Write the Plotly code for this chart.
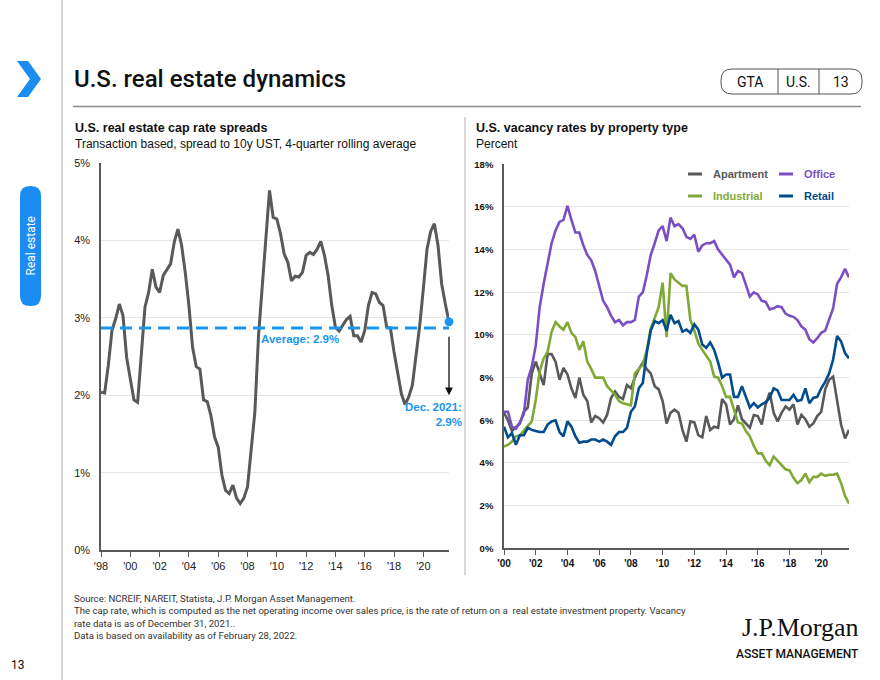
import plotly.graph_objects as go

# ---------------- data ----------------
CAP_START_YEAR = 1998
CAP_SPREAD = [
    2.04, 2.03, 2.39, 2.84, 2.99, 3.18, 3.03, 2.49,
    2.21, 1.94, 1.91, 2.52, 3.14, 3.33, 3.63, 3.40,
    3.33, 3.55, 3.63, 3.70, 3.98, 4.15, 3.94, 3.59,
    3.16, 2.62, 2.37, 2.34, 1.94, 1.92, 1.74, 1.46,
    1.33, 0.97, 0.77, 0.73, 0.84, 0.67, 0.60, 0.67,
    0.82, 1.31, 1.78, 2.77, 3.38, 4.06, 4.65, 4.30,
    4.28, 4.09, 3.83, 3.72, 3.48, 3.54, 3.53, 3.59,
    3.81, 3.85, 3.82, 3.89, 3.99, 3.81, 3.55, 3.16,
    2.88, 2.83, 2.90, 2.98, 3.02, 2.77, 2.77, 2.69,
    2.84, 3.16, 3.33, 3.31, 3.20, 3.16, 2.88, 2.87,
    2.56, 2.26, 2.02, 1.88, 1.98, 2.13, 2.52, 2.90,
    3.38, 3.89, 4.12, 4.22, 3.94, 3.44, 3.18, 2.95,
]
CAP_AVERAGE = 2.87
LEFT_TICK_YEARS = [1998, 2000, 2002, 2004, 2006, 2008, 2010, 2012, 2014, 2016, 2018, 2020]
LEFT_TICK_TEXT = ["'98", "'00", "'02", "'04", "'06", "'08", "'10", "'12", "'14", "'16", "'18", "'20"]
LEFT_Y_TICKS = [0, 1, 2, 3, 4, 5]
LEFT_Y_TEXT = ["0%", "1%", "2%", "3%", "4%", "5%"]

VAC_START_YEAR = 2000
APARTMENT = [
    6.35, 6.0, 5.5, 5.7, 5.85, 6.4, 6.6, 8.2,
    8.75, 8.2, 7.65, 9.1, 9.1, 8.75, 7.9, 8.45,
    8.15, 7.5, 7.05, 8.0, 7.2, 6.9, 5.9, 6.2,
    6.1, 5.9, 6.25, 7.05, 7.35, 7.1, 7.0, 7.65,
    7.5, 8.0, 8.4, 8.7, 8.4, 8.2, 7.6, 7.45,
    6.9, 5.85, 6.35, 6.5, 6.35, 5.55, 5.0, 5.95,
    5.9, 5.3, 5.2, 6.2, 5.55, 5.7, 5.65, 7.0,
    6.75, 5.8, 6.05, 6.7, 6.05, 5.85, 5.65, 6.25,
    6.2, 5.8, 6.75, 7.3, 6.35, 5.95, 6.35, 6.65,
    6.5, 6.75, 5.8, 6.25, 6.05, 5.7, 5.85, 6.2,
    6.4, 7.45, 7.9, 8.05, 6.95, 5.8, 5.15, 5.55,
]
OFFICE = [
    6.4, 6.4, 5.7, 5.6, 5.9, 6.3, 7.9, 8.5,
    9.5, 11.3, 12.4, 13.4, 14.3, 14.9, 15.3, 15.4,
    16.05, 15.4, 14.8, 14.8, 14.2, 13.75, 13.5, 13.0,
    12.3, 11.6, 11.3, 10.9, 10.6, 10.7, 10.45, 10.6,
    10.6, 10.7, 11.8, 12.0, 12.8, 13.75, 14.3, 14.9,
    15.1, 14.4, 15.5, 15.1, 15.2, 15.0, 14.6, 14.5,
    14.7, 13.9, 14.2, 14.3, 14.3, 14.4, 14.0, 13.75,
    13.5, 13.3, 12.7, 13.0, 12.9, 12.3, 11.8, 12.0,
    11.9, 11.6, 11.55, 11.2, 11.25, 11.35, 11.3, 11.0,
    10.9, 10.85, 10.7, 10.4, 10.25, 9.8, 9.65, 9.85,
    10.1, 10.2, 10.7, 11.25, 12.4, 12.7, 13.1, 12.7,
]
INDUSTRIAL = [
    4.77, 4.85, 5.0, 5.25, 5.3, 5.5, 5.75, 5.95,
    6.95, 8.3, 8.9, 9.2, 10.15, 10.6, 10.4, 10.25,
    10.6, 10.1, 9.9, 9.3, 9.7, 8.75, 8.4, 8.0,
    8.0, 8.0, 7.6, 7.4, 7.2, 6.9, 6.8, 6.75,
    6.7, 8.2, 8.4, 8.6, 9.3, 10.3, 10.8, 11.3,
    12.45, 9.9, 12.9, 12.6, 12.45, 12.3, 12.3, 10.7,
    10.2, 9.6, 9.3, 9.05, 8.75, 8.05, 8.0, 7.6,
    7.1, 7.1, 6.5, 5.9, 5.85, 5.5, 5.25, 4.8,
    4.45, 4.45, 4.1, 3.9, 4.3, 4.1, 3.9, 3.7,
    3.65, 3.3, 3.05, 3.2, 3.5, 3.1, 3.35, 3.35,
    3.5, 3.4, 3.45, 3.45, 3.5, 3.05, 2.45, 2.1,
]
RETAIL = [
    5.7, 5.2, 5.4, 4.85, 5.3, 5.3, 5.65, 5.55,
    5.5, 5.45, 5.45, 5.8, 5.95, 6.0, 5.45, 5.25,
    5.95, 5.7, 5.25, 4.95, 5.0, 5.0, 5.1, 5.1,
    5.0, 5.1, 5.0, 4.85, 5.25, 5.45, 5.45, 5.65,
    6.4, 6.65, 7.5, 7.75, 9.15, 10.2, 10.65, 10.55,
    10.7, 10.2, 10.95, 10.55, 10.65, 10.15, 10.25, 10.1,
    10.5, 10.25, 9.55, 9.4, 9.65, 9.3, 8.7, 8.0,
    8.15, 8.15, 7.1, 7.1, 7.6, 7.1, 6.6, 6.8,
    6.6, 6.75, 6.85, 7.05, 7.5, 7.4, 6.95, 6.95,
    6.95, 7.2, 6.9, 6.95, 7.5, 6.8, 7.05, 7.1,
    7.5, 7.8, 8.2, 8.85, 9.95, 9.7, 9.15, 8.9,
]
VAC_SERIES = ["Apartment", "Office", "Industrial", "Retail"]
RIGHT_TICK_YEARS = [2000, 2002, 2004, 2006, 2008, 2010, 2012, 2014, 2016, 2018, 2020]
RIGHT_TICK_TEXT = ["'00", "'02", "'04", "'06", "'08", "'10", "'12", "'14", "'16", "'18", "'20"]
RIGHT_Y_TICKS = [0, 2, 4, 6, 8, 10, 12, 14, 16, 18]
RIGHT_Y_TEXT = ["0%", "2%", "4%", "6%", "8%", "10%", "12%", "14%", "16%", "18%"]

# ---------------- styles ----------------
W, H = 880, 680
GREY_LINE = "#58595b"
BLUE = "#1a96f0"
COLORS = {"Apartment": "#58595b", "Office": "#7a4fc6", "Industrial": "#7fa934", "Retail": "#004c8c"}
FONT = "Liberation Sans, Arial, sans-serif"
SANS2 = "Roboto, Liberation Sans, sans-serif"


def px(x):
    return x / W


def py(y):
    return 1 - y / H


cap_x = [CAP_START_YEAR + i / 4 for i in range(len(CAP_SPREAD))]
vac_x = [VAC_START_YEAR + i / 4 for i in range(len(OFFICE))]
vac_data = {"Apartment": APARTMENT, "Office": OFFICE, "Industrial": INDUSTRIAL, "Retail": RETAIL}

fig = go.Figure()

# left chart
fig.add_trace(go.Scatter(x=cap_x, y=CAP_SPREAD, mode="lines", xaxis="x", yaxis="y",
                         line=dict(color=GREY_LINE, width=3), showlegend=False, hoverinfo="skip"))
fig.add_trace(go.Scatter(x=[cap_x[0], cap_x[-1]], y=[CAP_AVERAGE, CAP_AVERAGE], mode="lines",
                         xaxis="x", yaxis="y", line=dict(color=BLUE, width=3, dash="12px,7px"),
                         showlegend=False, hoverinfo="skip"))
fig.add_trace(go.Scatter(x=[cap_x[-1]], y=[CAP_SPREAD[-1]], mode="markers", xaxis="x", yaxis="y",
                         marker=dict(color=BLUE, size=9), showlegend=False, hoverinfo="skip",
                         cliponaxis=False))

# right chart
for name in VAC_SERIES:
    fig.add_trace(go.Scatter(x=vac_x, y=vac_data[name], mode="lines", name=name, xaxis="x2", yaxis="y2",
                             line=dict(color=COLORS[name], width=2.6), showlegend=False, hoverinfo="skip"))

axis_common = dict(showline=True, linecolor="#595959", linewidth=1.5, ticks="outside", ticklen=5,
                   tickcolor="#595959", showgrid=False, zeroline=False, fixedrange=True, automargin=False,
                   tickmode="array")
yaxis_common = dict(showline=True, linecolor="#595959", linewidth=1.5, ticks="", showgrid=True,
                    gridcolor="#e6e6e6", gridwidth=1, zeroline=False, fixedrange=True, automargin=False,
                    tickmode="array", ticklabelstandoff=7)

fig.update_layout(
    width=W, height=H, margin=dict(l=0, r=0, t=0, b=0, pad=0, autoexpand=False),
    paper_bgcolor="white", plot_bgcolor="white", showlegend=False,
    font=dict(family=FONT, color="#222"),
    xaxis=dict(domain=[px(101), px(449)], range=[CAP_START_YEAR, cap_x[-1]], anchor="y",
               tickvals=LEFT_TICK_YEARS, ticktext=LEFT_TICK_TEXT,
               tickfont=dict(size=11, color="#222"), **axis_common),
    yaxis=dict(domain=[py(550), py(163.3)], range=[0, 5], anchor="x", tickvals=LEFT_Y_TICKS,
               ticktext=LEFT_Y_TEXT, tickfont=dict(size=11, color="#222"), **yaxis_common),
    xaxis2=dict(domain=[px(504), px(849)], range=[VAC_START_YEAR, vac_x[-1]], anchor="y2",
                tickvals=RIGHT_TICK_YEARS, ticktext=RIGHT_TICK_TEXT,
                tickfont=dict(size=10, color="#111", weight="bold"), **axis_common),
    yaxis2=dict(domain=[py(548.3), py(164.3)], range=[0, 18], anchor="x2", tickvals=RIGHT_Y_TICKS,
                ticktext=RIGHT_Y_TEXT, tickfont=dict(size=9.5, color="#111", weight="bold"), **yaxis_common),
)

shapes = []
annotations = []


def note(x, y, text, size, color="#111", family=FONT, xanchor="center", yanchor="middle", **kw):
    annotations.append(dict(xref="paper", yref="paper", x=px(x), y=py(y), text=text, showarrow=False,
                            xanchor=xanchor, yanchor=yanchor,
                            font=dict(family=family, size=size, color=color, **kw.pop("fontkw", {})), **kw))


# page frame lines
shapes.append(dict(type="line", xref="paper", yref="paper", x0=px(62), x1=px(62), y0=0, y1=1,
                   line=dict(color="#a6a6a6", width=1)))
shapes.append(dict(type="line", xref="paper", yref="paper", x0=px(73), x1=px(861), y0=py(106.5), y1=py(106.5),
                   line=dict(color="#8c8c8c", width=1.5)))
shapes.append(dict(type="line", xref="paper", yref="paper", x0=px(465), x1=px(465), y0=py(117), y1=py(575),
                   line=dict(color="#b3b3b3", width=1)))

# chevron
chev = [(17, 61), (28, 61), (41, 79), (28, 97), (17, 97), (30, 79)]
path = "M " + " L ".join(f"{px(a)},{py(b)}" for a, b in chev) + " Z"
shapes.append(dict(type="path", xref="paper", yref="paper", path=path, fillcolor="#1a8cf2", line=dict(width=0)))


def rounded_rect(x0, y0, x1, y1, r):
    pts = [
        f"M {px(x0 + r)},{py(y0)}",
        f"L {px(x1 - r)},{py(y0)}",
        f"Q {px(x1)},{py(y0)} {px(x1)},{py(y0 + r)}",
        f"L {px(x1)},{py(y1 - r)}",
        f"Q {px(x1)},{py(y1)} {px(x1 - r)},{py(y1)}",
        f"L {px(x0 + r)},{py(y1)}",
        f"Q {px(x0)},{py(y1)} {px(x0)},{py(y1 - r)}",
        f"L {px(x0)},{py(y0 + r)}",
        f"Q {px(x0)},{py(y0)} {px(x0 + r)},{py(y0)}",
        "Z",
    ]
    return " ".join(pts)


# sidebar pill
shapes.append(dict(type="path", xref="paper", yref="paper", path=rounded_rect(20, 186, 41, 306, 10),
                   fillcolor="#1a8cf2", line=dict(width=0)))
note(30.5, 246, "Real estate", 12, color="white", family=SANS2, textangle=-90)

# GTA pill
shapes.append(dict(type="path", xref="paper", yref="paper", path=rounded_rect(721, 69, 862, 94, 11),
                   fillcolor="rgba(0,0,0,0)", line=dict(color="#555", width=1)))
for xd in (778, 819):
    shapes.append(dict(type="line", xref="paper", yref="paper", x0=px(xd), x1=px(xd), y0=py(69), y1=py(94),
                       line=dict(color="#555", width=1)))
for txt, xc in (("GTA", 749.5), ("U.S.", 798.5), ("13", 840.5)):
    note(xc, 81.5, txt, 14, family=SANS2)

# page title
note(72, 79, "U.S. real estate dynamics", 24, family=SANS2, xanchor="left", fontkw=dict(weight=500))

# chart titles
note(73, 128, "<b>U.S. real estate cap rate spreads</b>", 12.5, xanchor="left")
note(73, 144, "Transaction based, spread to 10y UST, 4-quarter rolling average", 12, xanchor="left")
note(474, 128, "<b>U.S. vacancy rates by property type</b>", 12.5, xanchor="left")
note(474, 144, "Percent", 12, xanchor="left")

# left chart annotations
note(300, 338.5, "<b>Average: 2.9%</b>", 11.5, color=BLUE)
annotations.append(dict(xref="x", yref="y", x=cap_x[-1], y=2.0, ax=0, ay=-63, axref="pixel", ayref="pixel",
                        text="", showarrow=True, arrowhead=2, arrowsize=1.2, arrowwidth=1.3, arrowcolor="#111",
                        standoff=0, startstandoff=3))
note(464, 414.5, "<b>Dec. 2021:</b><br><b>2.9%</b>", 11.5, color=BLUE, xanchor="right", align="right")

# right chart legend
legend_pos = {"Apartment": (688, 174), "Office": (779, 174), "Industrial": (688, 196), "Retail": (779, 196)}
for name in VAC_SERIES:
    lx, ly = legend_pos[name]
    shapes.append(dict(type="line", xref="paper", yref="paper", x0=px(lx), x1=px(lx + 14), y0=py(ly), y1=py(ly),
                       line=dict(color=COLORS[name], width=3)))
    note(lx + 23, ly, f"<b>{name}</b>", 11, color=COLORS[name], xanchor="left")

# footer
footer = ("Source: NCREIF, NAREIT, Statista, J.P. Morgan Asset Management.<br>"
          "The cap rate, which is computed as the net operating income over sales price, is the rate of return on a "
          " real estate investment property. Vacancy<br>rate data is as of December 31, 2021..<br>"
          "Data is based on availability as of February 28, 2022.")
note(72, 591, footer, 9.6, color="#333", family=SANS2, xanchor="left", yanchor="top", align="left")

# logo
note(861, 627, "J.P.Morgan", 26, family="Liberation Serif, DejaVu Serif, serif", xanchor="right")
note(861, 654, "ASSET MANAGEMENT", 12, family=SANS2, xanchor="right", fontkw=dict(weight=500))

# page number
note(18, 665, "13", 12, family=SANS2)

fig.update_layout(shapes=shapes, annotations=annotations)
fig.write_html("out.html")
